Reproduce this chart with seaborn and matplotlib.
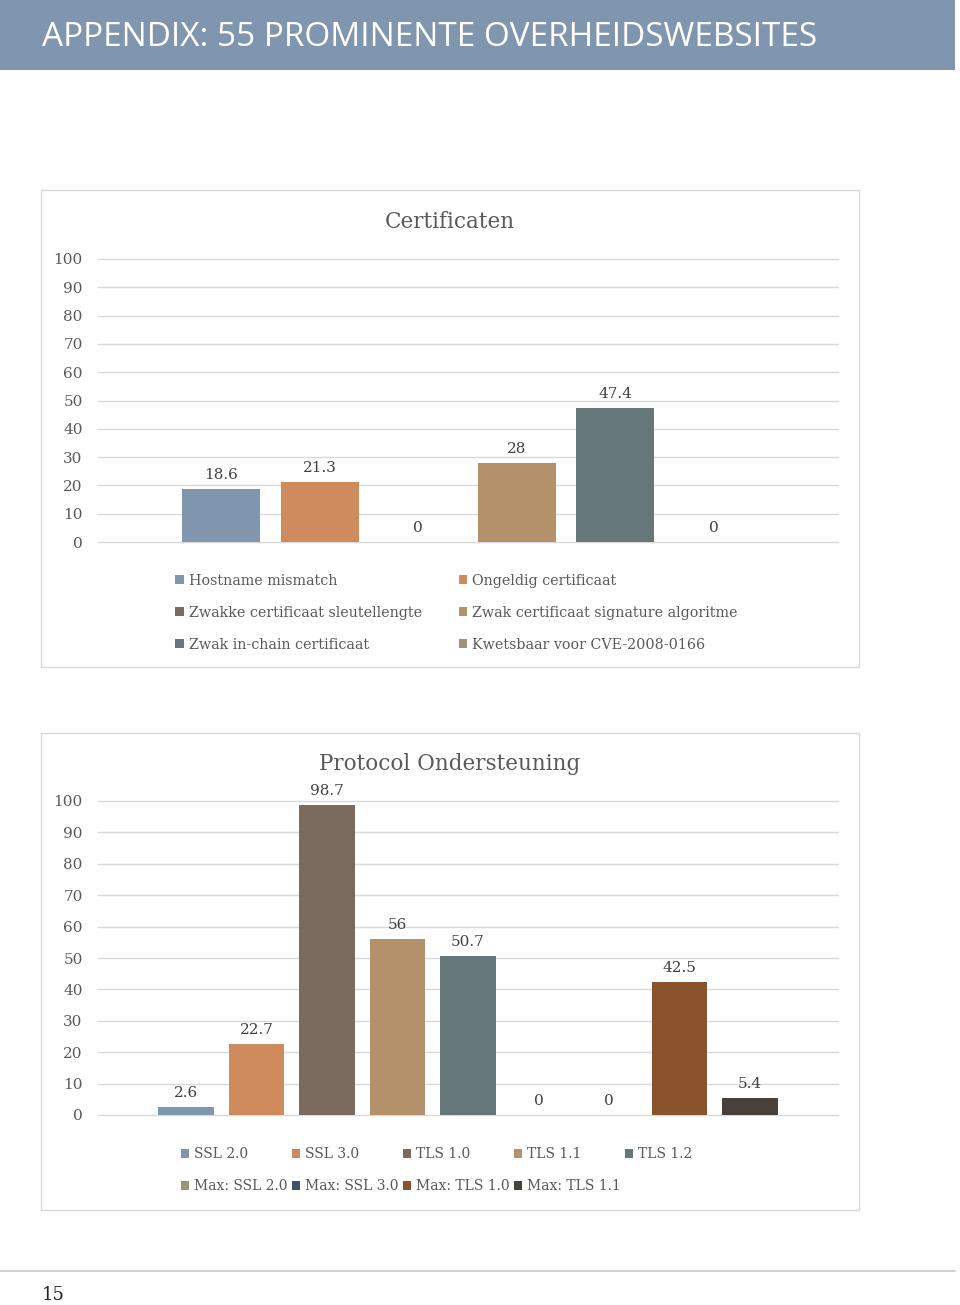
import matplotlib
matplotlib.use("Agg")
import matplotlib.pyplot as plt
from matplotlib.patches import Rectangle, Patch
from matplotlib.lines import Line2D
import seaborn as sns

# ---------------- data ----------------
cert_labels = ["Hostname mismatch", "Ongeldig certificaat",
               "Zwakke certificaat sleutellengte", "Zwak certificaat signature algoritme",
               "Zwak in-chain certificaat", "Kwetsbaar voor CVE-2008-0166"]
cert_values = [18.6, 21.3, 0, 28, 47.4, 0]
cert_colors = ["#7f96ae", "#cd8b5e", "#7b6a5e", "#b5916b", "#66777a", "#9c9478"]

proto_labels = ["SSL 2.0", "SSL 3.0", "TLS 1.0", "TLS 1.1", "TLS 1.2",
                "Max: SSL 2.0", "Max: SSL 3.0", "Max: TLS 1.0", "Max: TLS 1.1"]
proto_values = [2.6, 22.7, 98.7, 56, 50.7, 0, 0, 42.5, 5.4]
proto_colors = ["#7f96ae", "#cd8b5e", "#7b6a5e", "#b5916b", "#66777a",
                "#9c9478", "#3e5166", "#8b522e", "#47403b"]

yticks = [0, 10, 20, 30, 40, 50, 60, 70, 80, 90, 100]

header_text = "APPENDIX: 55 PROMINENTE OVERHEIDSWEBSITES"
title1 = "Certificaten"
title2 = "Protocol Ondersteuning"
page_no = "15"

# ---------------- layout ----------------
W, H = 960, 1305
sns.set_theme(style="white")
plt.rcParams['font.family'] = ['DejaVu Serif']
fig = plt.figure(figsize=(W / 100, H / 100), dpi=100)

TXT = "#595959"
GRID = "#d9d9d9"


def fx(x):
    return x / W


def fy(y):
    return 1 - y / H


def box(x0, y0, x1, y1, **kw):
    fig.patches.append(Rectangle((fx(x0), fy(y1)), fx(x1) - fx(x0), fy(y0) - fy(y1),
                                 transform=fig.transFigure, **kw))


# header band
box(0, 0, 955, 70, facecolor="#7f96ae", edgecolor="none")
fig.text(fx(42), fy(37), header_text, color="white", fontsize=24,
         family="Open Sans", va="center", ha="left")

# footer line and page number
fig.add_artist(Line2D([0, fx(955)], [fy(1271), fy(1271)], color="#c8c8c8", lw=1.2,
                      transform=fig.transFigure))
fig.text(fx(42), fy(1295), page_no, color="#222222", fontsize=13, va="center", ha="left")

# chart boxes
box(41, 190, 859, 667, facecolor="none", edgecolor="#d9d9d9", lw=1.0)
box(41, 733, 859, 1210, facecolor="none", edgecolor="#d9d9d9", lw=1.0)


def make_axes(x0, x1, ytop, ybot):
    return fig.add_axes([fx(x0), fy(ybot), fx(x1) - fx(x0), fy(ytop) - fy(ybot)])


def draw_bars(ax, labels, values, colors, slot_px, center_px, x0, x1):
    sns.barplot(x=labels, y=values, hue=labels, palette=colors, order=labels,
                hue_order=labels, legend=False, width=0.79, ax=ax, saturation=1,
                edgecolor="none", linewidth=0)
    n = len(labels)
    mid = (n - 1) / 2
    ax.set_xlim(mid - (center_px - x0) / slot_px, mid + (x1 - center_px) / slot_px)
    ax.set_ylim(0, 100)
    ax.set_yticks(yticks)
    ax.set_xticks([])
    ax.grid(axis="y", color=GRID, lw=1.0)
    ax.set_axisbelow(True)
    for gl in ax.get_ygridlines():
        gl.set_clip_on(False)
    for s in ax.spines.values():
        s.set_visible(False)
    ax.tick_params(axis="y", length=0, pad=11, labelsize=11, labelcolor=TXT)
    ax.set_xlabel("")
    ax.set_ylabel("")
    for cont in ax.containers:
        ax.bar_label(cont, fmt="%g", padding=5, fontsize=11, color="#404040", clip_on=False)


# chart 1
ax1 = make_axes(98, 838, 259, 542)
draw_bars(ax1, cert_labels, cert_values, cert_colors, 98.6, 467.5, 98, 838)
fig.text(fx(450), fy(222), title1, ha="center", va="center", fontsize=15.5, color=TXT)

# legend chart 1 (two columns, row-wise order)
cert_handles = [Patch(facecolor=c, edgecolor="none", label=l) for l, c in zip(cert_labels, cert_colors)]
order1 = [0, 2, 4, 1, 3, 5]
leg1 = fig.legend([cert_handles[i] for i in order1], [cert_labels[i] for i in order1],
                  ncol=2, loc="upper left", bbox_to_anchor=(fx(175), fy(574)),
                  frameon=False, fontsize=10.3, handlelength=0.6, handleheight=0.6,
                  handletextpad=0.35, columnspacing=2.6, labelspacing=1.25, borderaxespad=0,
                  borderpad=0)
for t in leg1.get_texts():
    t.set_color(TXT)

# chart 2
ax2 = make_axes(98, 838, 801, 1115)
draw_bars(ax2, proto_labels, proto_values, proto_colors, 70.5, 468, 98, 838)
fig.text(fx(450), fy(764), title2, ha="center", va="center", fontsize=15.5, color=TXT)

proto_handles = [Patch(facecolor=c, edgecolor="none", label=l) for l, c in zip(proto_labels, proto_colors)]
order2 = [0, 5, 1, 6, 2, 7, 3, 8, 4]
leg2 = fig.legend([proto_handles[i] for i in order2], [proto_labels[i] for i in order2],
                  ncol=5, loc="upper left", bbox_to_anchor=(fx(181), fy(1147)),
                  frameon=False, fontsize=10, handlelength=0.6, handleheight=0.6,
                  handletextpad=0.35, columnspacing=0.3, labelspacing=1.3, borderaxespad=0,
                  borderpad=0)
for t in leg2.get_texts():
    t.set_color(TXT)

fig.savefig("out.png", dpi=100, facecolor="white")
